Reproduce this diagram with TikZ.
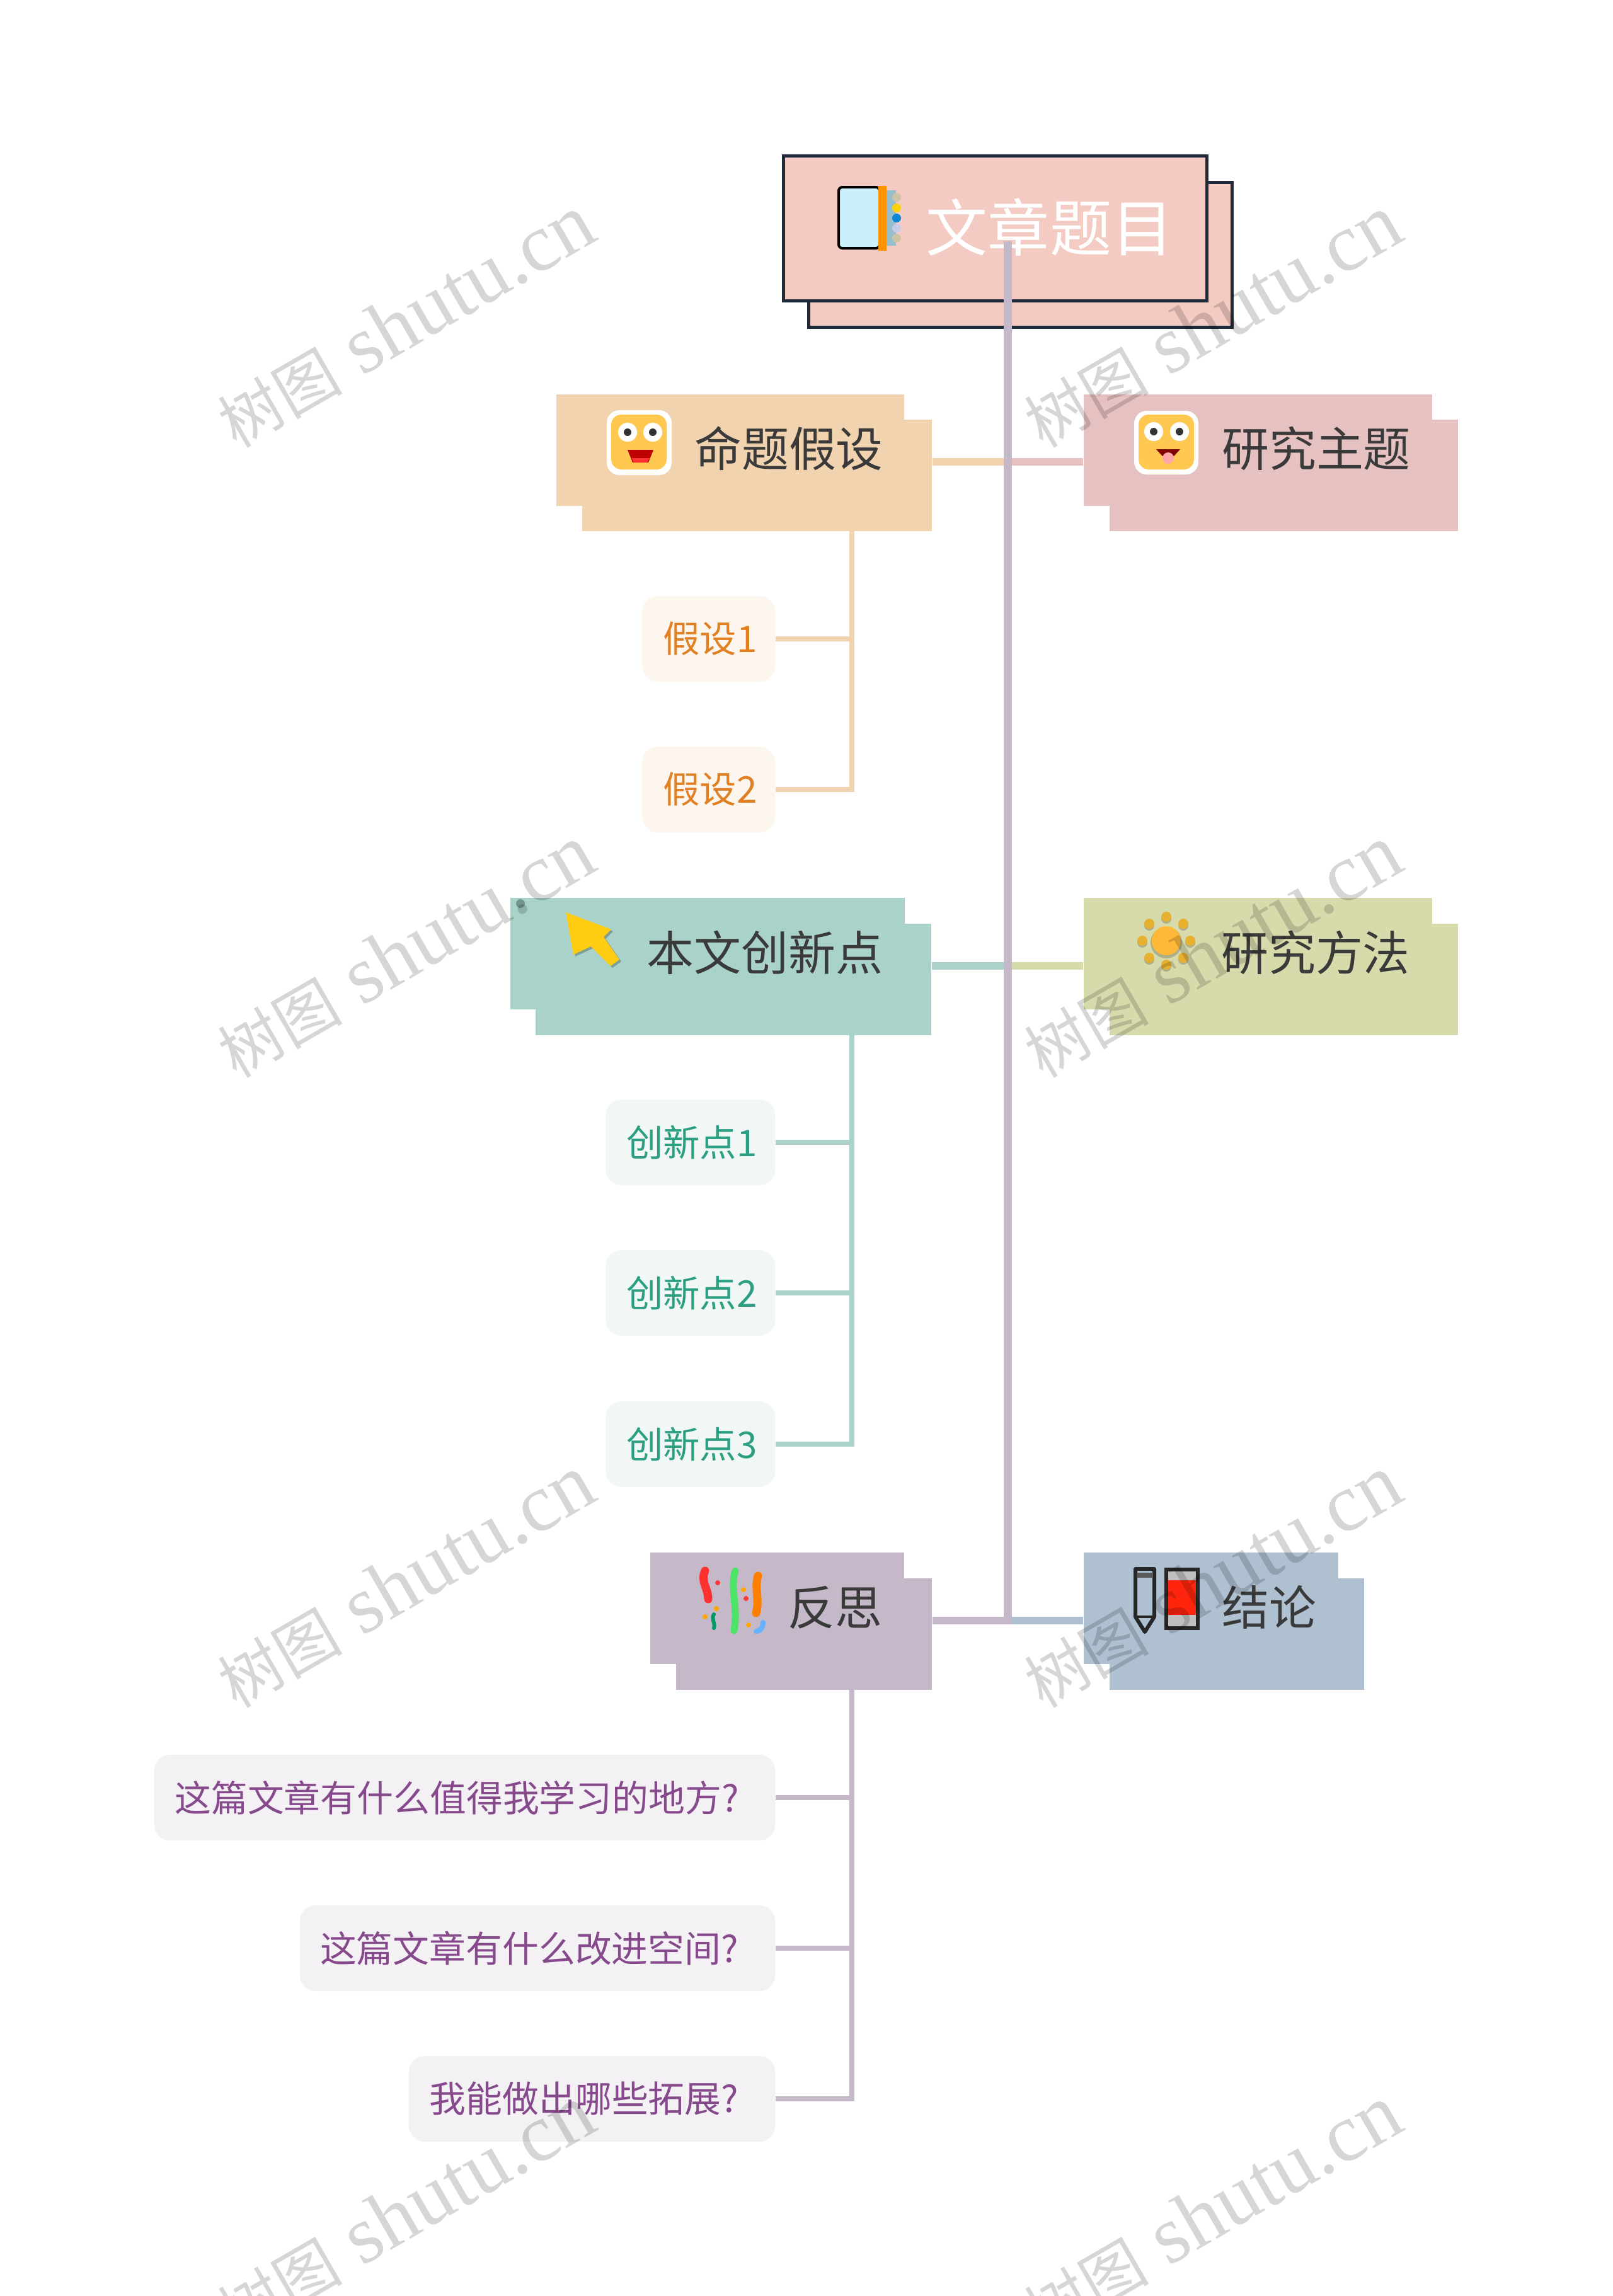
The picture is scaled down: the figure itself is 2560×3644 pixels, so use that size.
\documentclass[tikz,border=0pt]{standalone}
\usepackage{fontspec}
\setmainfont{Noto Sans CJK SC}
\newfontfamily\wmfont{Liberation Serif}
\newfontfamily\wmcjk{Noto Sans CJK SC}
\usetikzlibrary{positioning, calc}
\definecolor{titlepink}{RGB}{244, 203, 194}
\definecolor{titleedge}{RGB}{31, 42, 58}
\definecolor{spinepurple}{RGB}{197, 184, 201}
\definecolor{tanbox}{RGB}{242, 211, 176}
\definecolor{rosebox}{RGB}{230, 193, 193}
\definecolor{tealbox}{RGB}{169, 211, 202}
\definecolor{olivebox}{RGB}{215, 219, 172}
\definecolor{slatebox}{RGB}{175, 192, 209}
\definecolor{tansub}{RGB}{253, 246, 239}
\definecolor{tealsub}{RGB}{240, 247, 245}
\definecolor{plumsub}{RGB}{243, 241, 244}
\definecolor{tantext}{RGB}{224, 128, 34}
\definecolor{tealtext}{RGB}{44, 159, 131}
\definecolor{plumtext}{RGB}{134, 74, 140}
\definecolor{headtext}{RGB}{58, 58, 58}
\definecolor{faceyellow}{RGB}{255, 200, 80}
\definecolor{ringbeige}{RGB}{205, 195, 165}
\definecolor{ringstrip}{RGB}{150, 190, 205}
\definecolor{arrowgold}{RGB}{255, 204, 17}
\definecolor{sunorange}{RGB}{255, 184, 56}
\definecolor{sundot}{RGB}{232, 176, 48}
\tikzset{
  topbox/.style={draw=titleedge, line width=0.045cm, fill=titlepink, anchor=north west,
    inner sep=0, minimum width=6.72cm, minimum height=2.30cm},
  headbox/.style={anchor=north west, inner sep=0, minimum height=1.77cm},
  headlabel/.style={text=headtext, font=\fontsize{21.3}{21.3}\selectfont, inner sep=0},
  subbox/.style={anchor=east, inner sep=0, rounded corners=0.25cm, minimum height=1.36cm},
  sublabel/.style={font=\fontsize{16.6}{16.6}\selectfont},
  questionlabel/.style={text=plumtext, inner sep=0, font=\fontsize{16.45}{16.45}\selectfont},
  spineline/.style={spinepurple, line width=0.13cm},
  headlink/.style={line width=0.12cm},
  sublink/.style={line width=0.08cm},
  wmtext/.style={text=black, text opacity=0.16, rotate=30, inner sep=0,
    font=\wmfont\fontsize{37}{37}\selectfont},
}

\begin{document}
\begin{tikzpicture}[x=0.01cm, y=-0.01cm]
  \useasboundingbox (0, 0) rectangle (2560, 3644);
  \clip (0, 0) rectangle (2560, 3644);

  % === free ends of the connectors ===
  \coordinate (spinetop) at (1599, 383);
  \coordinate (spinebot) at (1599, 2578);
  \coordinate (spineA) at (1599, 733);
  \coordinate (spineB) at (1599, 1533);
  \coordinate (spineC) at (1599, 2572);
  \coordinate (trunkA) at (1352, 842);
  \coordinate (trunkB) at (1352, 1643);
  \coordinate (trunkC) at (1352, 2682);

  % === title ===
  \node[topbox] (titleback) at (1281, 287) {};
  \node[topbox] (titlefront) at (1241, 245) {};
  \fill[ringstrip] (1404, 302) rectangle (1422, 390);
  \draw[line width=0.04cm, fill=cyan!20!white, rounded corners=0.06cm] (1331, 297) rectangle (1396, 394);
  \fill[orange!85!yellow] (1394, 295) rectangle (1407, 398);
  \fill[ringbeige] (1423, 313) circle (7);
  \fill[yellow!70!orange] (1423, 330) circle (7);
  \fill[cyan!70!blue] (1423, 346) circle (7);
  \fill[gray!60!blue!30!white] (1423, 362) circle (7);
  \fill[ringbeige] (1423, 378) circle (7);
  \node[text=white, inner sep=0, font=\fontsize{27.9}{27.9}\selectfont] (titletext) at (1666, 360) {文章题目};

  % === 命题假设 ===
  \node[headbox, fill=tanbox, minimum width=5.55cm] (mingtiback) at (923, 665) {};
  \node[headbox, fill=tanbox, minimum width=5.52cm] (mingti) at (882, 625) {};
  \node[headbox, fill=rosebox, minimum width=5.53cm] (zhutiback) at (1760, 665) {};
  \node[headbox, fill=rosebox, minimum width=5.53cm] (zhuti) at (1719, 625) {};
  \draw[headlink, tanbox] (mingtiback.east |- spineA) -- (spineA);
  \draw[headlink, rosebox] (spineA) -- (zhuti.west |- spineA);
  \fill[white, rounded corners=0.2cm] (963, 651) rectangle (1066, 754);
  \fill[faceyellow, rounded corners=0.16cm] (970, 658) rectangle (1058, 745);
  \fill[white] (996, 686) circle (15) (1036, 686) circle (15);
  \fill[black!80] (996, 686) circle (6) (1036, 686) circle (6);
  \fill[red!75!black] (996, 714) -- (1037, 714) -- (1029, 734) -- (1004, 734) -- cycle;
  \fill[red!80!white] (1002, 727) -- (1031, 727) -- (1027, 734) -- (1006, 734) -- cycle;
  \node[headlabel] (mingtitext) at (1252, 712) {命题假设};
  \node[subbox, fill=tansub, minimum width=2.11cm] (jia1) at (1231, 1014) {};
  \node[subbox, fill=tansub, minimum width=2.11cm] (jia2) at (1231, 1253) {};
  \node[sublabel, text=tantext, inner sep=0] (jia1text) at (1127, 1014) {假设1};
  \node[sublabel, text=tantext, inner sep=0] (jia2text) at (1127, 1253) {假设2};
  \draw[sublink, tanbox] (jia1.east) -| (trunkA);
  \draw[sublink, tanbox] (jia2.east) -| (trunkA);

  % === 研究主题 ===
  \fill[white, rounded corners=0.2cm] (1800, 652) rectangle (1902, 753);
  \fill[faceyellow, rounded corners=0.16cm] (1807, 658) rectangle (1895, 745);
  \fill[white] (1831, 685) circle (15) (1872, 685) circle (15);
  \fill[black!80] (1831, 685) circle (6) (1872, 685) circle (6);
  \fill[red!50!black] (1835, 713) -- (1873, 713) -- (1863, 724) -- (1845, 724) -- cycle;
  \fill[red!35!white] (1854, 727) circle (9);
  \node[headlabel] (zhutitext) at (2089, 712) {研究主题};

  % === 本文创新点 ===
  \node[headbox, fill=tealbox, minimum width=6.28cm] (chuangback) at (849, 1465) {};
  \node[headbox, fill=tealbox, minimum width=6.26cm] (chuang) at (809, 1424) {};
  \node[headbox, fill=olivebox, minimum width=5.53cm] (fangfaback) at (1760, 1465) {};
  \node[headbox, fill=olivebox, minimum width=5.53cm] (fangfa) at (1719, 1424) {};
  \draw[headlink, tealbox] (chuangback.east |- spineB) -- (spineB);
  \draw[headlink, olivebox] (spineB) -- (fangfa.west |- spineB);
  \fill[tealbox!70!black] (826, 1434) circle (7);
  \fill[black, opacity=0.25] (901, 1451) -- (973, 1478) -- (961, 1490) -- (986, 1526) -- (972, 1536)
    -- (941, 1505) -- (913, 1518) -- cycle;
  \fill[arrowgold] (898, 1448) -- (970, 1475) -- (958, 1487) -- (983, 1523) -- (969, 1533)
    -- (938, 1502) -- (910, 1515) -- cycle;
  \node[headlabel] (chuangtext) at (1214, 1512) {本文创新点};
  \node[subbox, fill=tealsub, minimum width=2.69cm] (xin1) at (1231, 1813) {};
  \node[subbox, fill=tealsub, minimum width=2.69cm] (xin2) at (1231, 2052) {};
  \node[subbox, fill=tealsub, minimum width=2.69cm] (xin3) at (1231, 2292) {};
  \node[sublabel, text=tealtext, inner sep=0] (xin1text) at (1098, 1813) {创新点1};
  \node[sublabel, text=tealtext, inner sep=0] (xin2text) at (1098, 2052) {创新点2};
  \node[sublabel, text=tealtext, inner sep=0] (xin3text) at (1098, 2292) {创新点3};
  \draw[sublink, tealbox] (xin1.east) -| (trunkB);
  \draw[sublink, tealbox] (xin2.east) -| (trunkB);
  \draw[sublink, tealbox] (xin3.east) -| (trunkB);

  % === 研究方法 ===
  \fill[black, opacity=0.2] (1851, 1496) circle (25);
  \fill[black, opacity=0.2] (1851, 1458) circle (8) (1878, 1469) circle (8) (1889, 1496) circle (8)
    (1878, 1523) circle (8) (1851, 1534) circle (8) (1824, 1523) circle (8) (1813, 1496) circle (8)
    (1824, 1469) circle (8);
  \fill[sunorange] (1851, 1493) circle (23);
  \fill[sundot] (1851, 1455) circle (8) (1878, 1466) circle (8) (1889, 1493) circle (8)
    (1878, 1520) circle (8) (1851, 1531) circle (8) (1824, 1520) circle (8) (1813, 1493) circle (8)
    (1824, 1466) circle (8);
  \node[headlabel] (fangfatext) at (2088, 1512) {研究方法};

  % === 反思 ===
  \node[headbox, fill=spinepurple, minimum width=4.06cm] (fansiback) at (1072, 2504) {};
  \node[headbox, fill=spinepurple, minimum width=4.03cm] (fansi) at (1031, 2463) {};
  \draw[headlink, spinepurple] (fansiback.east |- spineC) -- (spineC);
  \draw[line width=0.13cm, line cap=round, red!75!pink] (1119, 2493) .. controls (1111, 2510) and (1124, 2520) .. (1124, 2538);
  \draw[line width=0.11cm, line cap=round, green!70!teal!70!white] (1167, 2493) .. controls (1158, 2520) and (1172, 2550) .. (1165, 2588);
  \draw[line width=0.13cm, line cap=round, orange] (1203, 2501) .. controls (1197, 2520) and (1206, 2540) .. (1200, 2560);
  \draw[line width=0.06cm, line cap=round, teal!80!green] (1133, 2562) .. controls (1128, 2570) and (1136, 2575) .. (1133, 2584);
  \draw[line width=0.08cm, line cap=round, blue!50!cyan!60!white] (1211, 2575) .. controls (1211, 2585) and (1205, 2589) .. (1200, 2589);
  \fill[orange!70!yellow] (1137, 2553) circle (4) (1119, 2566) circle (4) (1180, 2523) circle (4) (1188, 2579) circle (4);
  \fill[red!70!pink] (1139, 2512) circle (4) (1184, 2537) circle (4);
  \node[headlabel] (fansitext) at (1325, 2551) {反思};
  \node[subbox, fill=plumsub, minimum width=9.85cm] (si1) at (1231, 2853) {};
  \node[subbox, fill=plumsub, minimum width=7.54cm] (si2) at (1231, 3092) {};
  \node[subbox, fill=plumsub, minimum width=5.81cm] (si3) at (1231, 3331) {};
  \node[questionlabel] (si1text) at (725, 2853) {这篇文章有什么值得我学习的地方?};
  \node[questionlabel] (si2text) at (840, 3092) {这篇文章有什么改进空间?};
  \node[questionlabel] (si3text) at (927, 3331) {我能做出哪些拓展?};
  \draw[sublink, spinepurple] (si1.east) -| (trunkC);
  \draw[sublink, spinepurple] (si2.east) -| (trunkC);
  \draw[sublink, spinepurple] (si3.east) -| (trunkC);

  % === 结论 ===
  \node[headbox, fill=slatebox, minimum width=4.04cm] (jielunback) at (1760, 2504) {};
  \node[headbox, fill=slatebox, minimum width=4.04cm] (jielun) at (1719, 2463) {};
  \draw[headlink, slatebox] (spineC) -- (jielun.west |- spineC);
  \draw[line width=0.06cm, black!85, line join=round] (1802, 2490) -- (1832, 2490) -- (1832, 2566) -- (1817, 2590) -- (1802, 2566) -- cycle;
  \fill[gray!70!black] (1804, 2496) rectangle (1830, 2504);
  \draw[line width=0.04cm, black!85] (1802, 2566) -- (1832, 2566);
  \fill[red!80!orange!95!white] (1851, 2508) rectangle (1901, 2563);
  \fill[gray!50] (1851, 2492) rectangle (1901, 2508) (1851, 2563) rectangle (1901, 2583);
  \draw[line width=0.06cm, black!85] (1851, 2491) rectangle (1901, 2584);
  \node[headlabel] (jieluntext) at (2014, 2551) {结论};

  % === spine ===
  \draw[spineline] (spinetop) -- (spinebot);

  % === watermark ===
  \node[wmtext] (wmA) at (644, 510) {{\wmcjk\fontsize{28}{28}\selectfont 树图} shutu.cn};
  \node[wmtext] (wmB) at (1924, 510) {{\wmcjk\fontsize{28}{28}\selectfont 树图} shutu.cn};
  \node[wmtext] (wmC) at (644, 1510) {{\wmcjk\fontsize{28}{28}\selectfont 树图} shutu.cn};
  \node[wmtext] (wmD) at (1924, 1510) {{\wmcjk\fontsize{28}{28}\selectfont 树图} shutu.cn};
  \node[wmtext] (wmE) at (644, 2510) {{\wmcjk\fontsize{28}{28}\selectfont 树图} shutu.cn};
  \node[wmtext] (wmF) at (1924, 2510) {{\wmcjk\fontsize{28}{28}\selectfont 树图} shutu.cn};
  \node[wmtext] (wmG) at (644, 3510) {{\wmcjk\fontsize{28}{28}\selectfont 树图} shutu.cn};
  \node[wmtext] (wmH) at (1924, 3510) {{\wmcjk\fontsize{28}{28}\selectfont 树图} shutu.cn};
\end{tikzpicture}
\end{document}
